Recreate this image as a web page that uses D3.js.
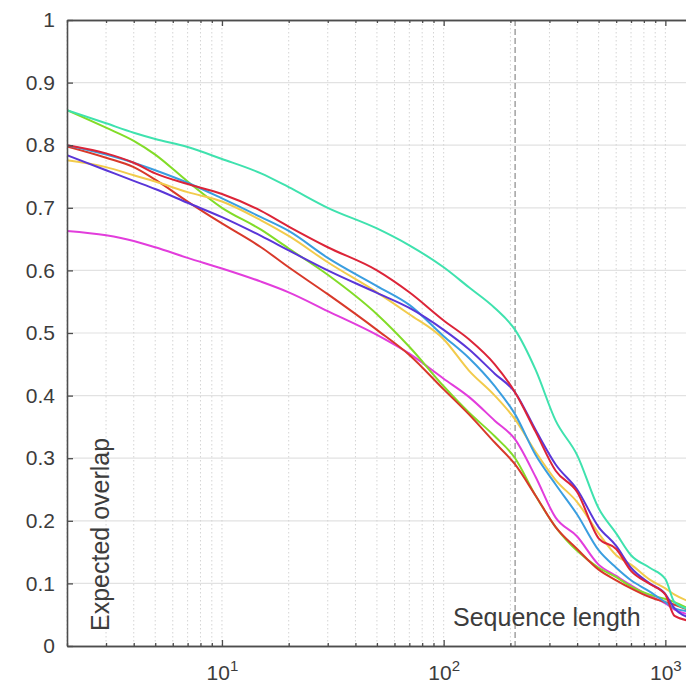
<!DOCTYPE html>
<html>
<head>
<meta charset="utf-8">
<script src="https://cdn.jsdelivr.net/npm/d3@7"></script>
<style>
  html, body { margin: 0; padding: 0; background: #fff; }
  svg { display: block; font-family: "Liberation Sans", Arial, sans-serif; }
</style>
</head>
<body>
<div id="chart"></div>
<script>
// sequence lengths shared by every curve
const xs = [2, 3, 4, 5, 7, 10, 15, 20, 30, 50, 70, 100, 130, 170, 210, 260, 320, 400, 500, 600, 700, 850, 1000, 1100, 1300];

// expected overlap per tracker
const aquaY = [0.856, 0.835, 0.82, 0.81, 0.797, 0.778, 0.755, 0.733, 0.70, 0.667, 0.64, 0.605, 0.573, 0.54, 0.505, 0.441, 0.36, 0.305, 0.22, 0.18, 0.145, 0.125, 0.107, 0.07, 0.058];
const limeY = [0.856, 0.828, 0.807, 0.785, 0.742, 0.70, 0.665, 0.635, 0.593, 0.53, 0.478, 0.415, 0.373, 0.335, 0.30, 0.24, 0.19, 0.152, 0.125, 0.11, 0.095, 0.082, 0.075, 0.07, 0.058];
const steepRedY = [0.798, 0.78, 0.765, 0.745, 0.71, 0.675, 0.637, 0.605, 0.562, 0.505, 0.465, 0.41, 0.37, 0.325, 0.29, 0.24, 0.19, 0.155, 0.122, 0.105, 0.092, 0.078, 0.07, 0.066, 0.056];
const redY = [0.80, 0.787, 0.772, 0.755, 0.738, 0.722, 0.695, 0.67, 0.637, 0.60, 0.565, 0.52, 0.49, 0.45, 0.405, 0.342, 0.28, 0.246, 0.172, 0.155, 0.12, 0.099, 0.082, 0.048, 0.04];
const purpleY = [0.784, 0.76, 0.743, 0.73, 0.708, 0.685, 0.655, 0.632, 0.6, 0.564, 0.54, 0.505, 0.474, 0.435, 0.405, 0.345, 0.29, 0.25, 0.19, 0.16, 0.125, 0.10, 0.083, 0.06, 0.045];
const blueY = [0.80, 0.785, 0.772, 0.76, 0.74, 0.715, 0.685, 0.663, 0.62, 0.575, 0.545, 0.495, 0.46, 0.415, 0.37, 0.305, 0.258, 0.21, 0.153, 0.125, 0.105, 0.087, 0.07, 0.06, 0.055];
const yellowY = [0.776, 0.765, 0.752, 0.742, 0.725, 0.71, 0.68, 0.655, 0.613, 0.565, 0.53, 0.49, 0.44, 0.40, 0.362, 0.31, 0.265, 0.23, 0.18, 0.145, 0.13, 0.106, 0.092, 0.082, 0.07];
const magentaY = [0.663, 0.656, 0.647, 0.637, 0.62, 0.603, 0.582, 0.565, 0.535, 0.497, 0.467, 0.427, 0.398, 0.36, 0.33, 0.27, 0.205, 0.175, 0.13, 0.112, 0.097, 0.08, 0.068, 0.058, 0.05];

const yTicks = [0, 0.1, 0.2, 0.3, 0.4, 0.5, 0.6, 0.7, 0.8, 0.9, 1];
const xMajor = [10, 100, 1000];
const markerLength = 210;
const xLabel = "Sequence length";
const yLabel = "Expected overlap";

const series = [magentaY, limeY, steepRedY, yellowY, blueY, purpleY, redY, aquaY];
const colors = ["#e23ddc", "#82dc28", "#d8392a", "#f2cb4c", "#3a9ee0", "#5a36d8", "#dc2438", "#3fe2ae"];

const width = 686, height = 689;
const margin = { top: 20, left: 67, bottom: 43 };
const decade = 221.7;

const x = d3.scaleLog()
  .domain([2, 1300])
  .range([margin.left, margin.left + decade * Math.log10(1300 / 2)]);
const y = d3.scaleLinear()
  .domain([0, 1])
  .range([height - margin.bottom, margin.top]);

const xMinor = [];
for (let p = 0; p <= 3; p++) {
  for (let k = 2; k <= 9; k++) {
    const v = k * Math.pow(10, p);
    if (v >= 2 && v <= 1300) xMinor.push(v);
  }
}

const svg = d3.select("#chart").append("svg")
  .attr("width", width)
  .attr("height", height);

const x0 = margin.left, x1 = width + 10;
const y0 = y(0), y1 = y(1);

svg.append("defs").append("clipPath").attr("id", "plot")
  .append("rect")
  .attr("x", x0).attr("y", y1)
  .attr("width", x1 - x0).attr("height", y0 - y1);

// grid
const grid = svg.append("g");
grid.selectAll(".hgrid")
  .data(yTicks.slice(1, -1))
  .enter().append("line")
  .attr("x1", x0).attr("x2", x1)
  .attr("y1", (d) => y(d)).attr("y2", (d) => y(d))
  .attr("stroke", "#e2e2e2")
  .attr("stroke-width", 1.2);
grid.selectAll(".vgrid")
  .data(xMinor.concat(xMajor))
  .enter().append("line")
  .attr("x1", (d) => x(d)).attr("x2", (d) => x(d))
  .attr("y1", y1).attr("y2", y0)
  .attr("stroke", "#d4d4d4")
  .attr("stroke-dasharray", "1.5,2.5");

// marker for the typical sequence length
svg.append("line")
  .attr("x1", x(markerLength)).attr("x2", x(markerLength))
  .attr("y1", y1).attr("y2", y0)
  .attr("stroke", "#8a8a8a")
  .attr("stroke-width", 1.2)
  .attr("stroke-dasharray", "6,3");

// curves
const line = d3.line()
  .curve(d3.curveMonotoneX)
  .x((d) => x(d[0]))
  .y((d) => y(d[1]));

svg.append("g")
  .attr("clip-path", "url(#plot)")
  .selectAll("path")
  .data(series)
  .enter().append("path")
  .attr("d", (s) => line(xs.map((v, i) => [v, s[i]])))
  .attr("fill", "none")
  .attr("stroke", (_, i) => colors[i])
  .attr("stroke-width", 2)
  .attr("stroke-linejoin", "round");

// axes, MATLAB style box with inward ticks
function styleAxis(g) {
  g.select(".domain").attr("stroke", "#4d4d4d").attr("stroke-width", 1.6);
  g.selectAll(".tick line").attr("stroke", "#4d4d4d").attr("stroke-width", 1.3);
  g.selectAll("text").attr("fill", "#3c3c3c");
}

svg.append("g")
  .attr("transform", `translate(0,${y0})`)
  .call(d3.axisBottom(x).tickValues(xMinor).tickSize(-3).tickSizeOuter(0).tickFormat(""))
  .call(styleAxis);
svg.append("g")
  .attr("transform", `translate(0,${y1})`)
  .call(d3.axisTop(x).tickValues(xMinor).tickSize(-3).tickSizeOuter(0).tickFormat(""))
  .call(styleAxis);

const bottom = svg.append("g")
  .attr("transform", `translate(0,${y0})`)
  .call(d3.axisBottom(x).tickValues(xMajor).tickSize(-6).tickSizeOuter(0).tickFormat(""))
  .call(styleAxis);
svg.append("g")
  .attr("transform", `translate(0,${y1})`)
  .call(d3.axisTop(x).tickValues(xMajor).tickSize(-6).tickSizeOuter(0).tickFormat(""))
  .call(styleAxis);

const xLab = bottom.selectAll(".tick").append("text")
  .attr("y", 34)
  .attr("text-anchor", "middle")
  .attr("fill", "#3c3c3c")
  .attr("font-size", 21);
xLab.append("tspan").text("10");
xLab.append("tspan")
  .attr("dy", -9)
  .attr("font-size", 15)
  .text((d) => Math.round(Math.log10(d)));

svg.append("g")
  .attr("transform", `translate(${x0},0)`)
  .call(d3.axisLeft(y).tickValues(yTicks).tickSize(-6).tickSizeOuter(0).tickPadding(12).tickFormat(d3.format("~g")))
  .call(styleAxis)
  .selectAll("text")
  .attr("font-size", 21)
  .attr("font-family", "Liberation Sans, Arial, sans-serif");

// axis labels sit inside the plot
svg.append("text")
  .attr("transform", `translate(${x0 + 42},${y0 - 15}) rotate(-90)`)
  .attr("fill", "#3c3c3c")
  .attr("font-size", 25)
  .text(yLabel);
svg.append("text")
  .attr("x", 453)
  .attr("y", y0 - 20)
  .attr("fill", "#3c3c3c")
  .attr("font-size", 25)
  .text(xLabel);
</script>
</body>
</html>
